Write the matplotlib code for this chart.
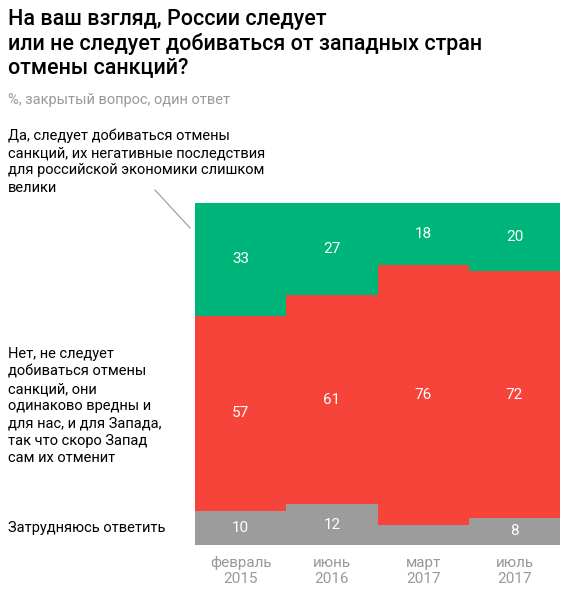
import matplotlib.pyplot as plt
import numpy as np

plt.rcParams['font.family'] = ['Roboto', 'DejaVu Sans']

periods = ["февраль\n2015", "июнь\n2016", "март\n2017", "июль\n2017"]
yes_vals = [33, 27, 18, 20]
no_vals = [57, 61, 76, 72]
dk_vals = [10, 12, 6, 8]
dk_labels = ["10", "12", "", "8"]

GREEN = "#00b57a"
RED = "#f6443b"
GREY = "#9c9c9c"

fig = plt.figure(figsize=(5.67, 5.97), dpi=100)
ax = fig.add_axes([0.344, 0.087, 0.644, 0.573])

x = np.arange(len(periods))
dk = np.array(dk_vals)
no = np.array(no_vals)
yes = np.array(yes_vals)
ax.bar(x, dk, width=1.0, color=GREY)
ax.bar(x, no, width=1.0, bottom=dk, color=RED)
ax.bar(x, yes, width=1.0, bottom=dk + no, color=GREEN)

for i in x:
    ax.text(i, dk[i] + no[i] + yes[i] / 2, str(yes[i]), ha="center", va="center", color="white", fontsize=11)
    ax.text(i, dk[i] + no[i] / 2, str(no[i]), ha="center", va="center", color="white", fontsize=11)
    if dk_labels[i]:
        ax.text(i, dk[i] / 2, dk_labels[i], ha="center", va="center", color="white", fontsize=11)

ax.set_xlim(-0.5, 3.5)
ax.set_ylim(0, 100)
ax.set_xticks(x)
ax.set_xticklabels(periods, color="#999999", fontsize=11)
ax.tick_params(length=0, pad=8)
ax.set_yticks([])
for s in ax.spines.values():
    s.set_visible(False)

fig.text(0.014, 0.985, "На ваш взгляд, России следует\nили не следует добиваться от западных стран\nотмены санкций?",
         fontsize=15.5, fontweight="medium", va="top", linespacing=1.15)
fig.text(0.014, 0.845, "%, закрытый вопрос, один ответ", fontsize=10.5, color="#999999", va="top")
fig.text(0.014, 0.785, "Да, следует добиваться отмены\nсанкций, их негативные последствия\nдля российской экономики слишком\nвелики",
         fontsize=10.5, va="top", linespacing=1.3)
fig.text(0.014, 0.418, "Нет, не следует\nдобиваться отмены\nсанкций, они\nодинаково вредны и\nдля нас, и для Запада,\nтак что скоро Запад\nсам их отменит",
         fontsize=10.5, va="top", linespacing=1.3)
fig.text(0.014, 0.115, "Затрудняюсь ответить", fontsize=10.5, va="center")
fig.add_artist(plt.Line2D([155 / 567, 190 / 567], [1 - 190 / 597, 1 - 228 / 597], color="#999999", lw=0.8))

fig.savefig("out.png", dpi=100)
